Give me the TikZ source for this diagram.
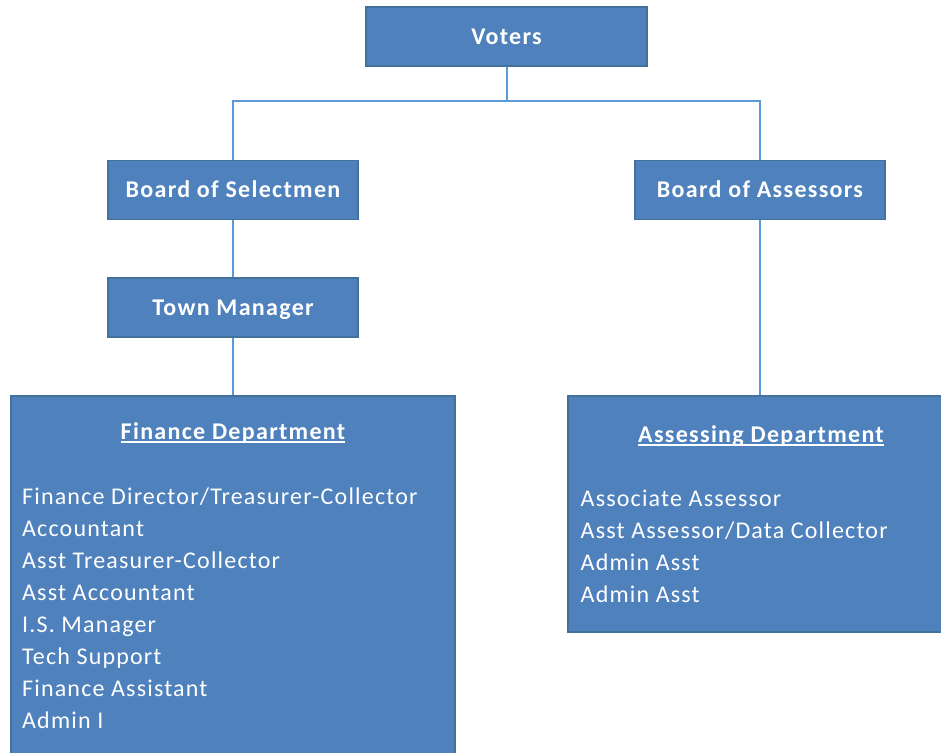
\documentclass[tikz,border=0pt]{standalone}
\usepackage{fontspec}
\setmainfont{Carlito}[LetterSpace=5.5]
\newfontfamily\itemfont{Carlito}[LetterSpace=4.9]

\definecolor{boxfill}{HTML}{4F81BD}
\definecolor{boxedge}{HTML}{41719C}
\definecolor{linkblue}{HTML}{5B9BD5}

% underlined department heading with a heavier rule
\newcommand\headul[1]{\setbox0\hbox{#1}\rlap{\rule[-3.5pt]{\wd0}{1.8pt}}\box0}

\begin{document}
\begin{tikzpicture}[x=1pt,y=-1pt,
  orgbox/.style={draw=boxedge, line width=1.5pt, fill=boxfill, text=white,
    font=\fontsize{24}{29}\selectfont\bfseries, inner sep=0pt,
    text height=15.5pt, text depth=0pt},
  deptbox/.style={draw=boxedge, line width=1.5pt, fill=boxfill, inner sep=0pt},
  link/.style={draw=linkblue, line width=2pt},
  item/.style={text=white, anchor=base west, inner sep=0pt,
    font=\itemfont\fontsize{24}{29}\selectfont},
  head/.style={text=white, anchor=base, inner sep=0pt,
    font=\fontsize{24}{29}\selectfont\bfseries}]
\useasboundingbox (0,0) rectangle (941,752);
\clip (0,0) rectangle (941,752);

% top levels
\node[orgbox, minimum width=281pt, minimum height=59pt] (voters) at (506.5,36.5) {Voters};
\node[orgbox, minimum width=250pt, minimum height=59pt] (sel)  at (233,190) {Board of Selectmen};
\node[orgbox, minimum width=250pt, minimum height=59pt] (assr) at (760,190) {Board of Assessors};
\node[orgbox, minimum width=250pt, minimum height=59pt] (tm)   at (233,307.5) {Town Manager};

% departments
\node[deptbox, minimum width=444pt, minimum height=394pt] (fin)  at (233,593) {};
\node[deptbox, minimum width=386pt, minimum height=236pt] (assd) at (761,514) {};

\node[head] (finhead) at (233,439) {\headul{Finance Department}};
\foreach \t [count=\i] in {Finance Director/Treasurer-Collector, Accountant,
    Asst Treasurer-Collector, Asst Accountant, I.S. Manager, Tech Support,
    Finance Assistant, Admin I}
  \node[item] (fin-\i) at (22,{504+32*(\i-1)}) {\t};

\node[head] (assdhead) at (761,442.5) {\headul{Assessing Department}};
\foreach \t [count=\i] in {Associate Assessor, Asst Assessor/Data Collector,
    Admin Asst, Admin Asst}
  \node[item] (assd-\i) at (580.5,{506.5+32*(\i-1)}) {\t};

% reporting lines
\coordinate (bus) at (506.5,101);
\draw[link] (voters.south) -- (bus);
\draw[link] (bus) -| (sel.north);
\draw[link] (bus) -| (assr.north);
\draw[link] (sel.south) -- (tm.north);
\draw[link] (tm.south) -- (fin.north);
\draw[link] (assr.south) -- (assr.south |- assd.north);
\end{tikzpicture}
\end{document}
